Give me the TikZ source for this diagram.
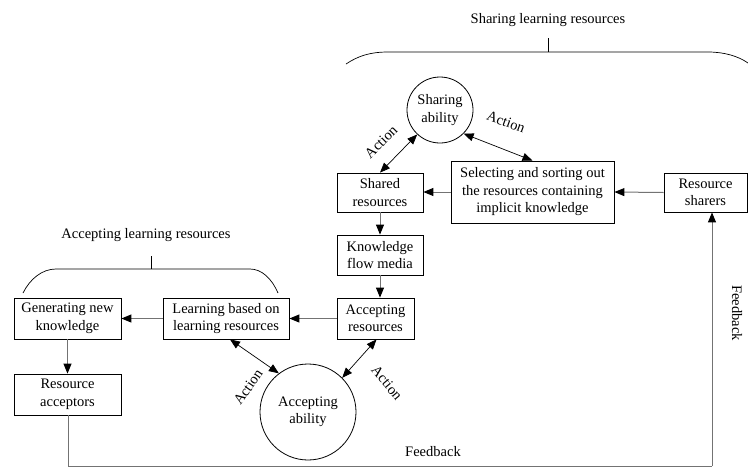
\documentclass[tikz,border=0pt]{standalone}
\usepackage{fontspec}
\setmainfont{Liberation Serif}
\usetikzlibrary{arrows.meta}
\begin{document}
\begin{tikzpicture}[x=1pt,y=-1pt,
  font=\fontsize{14.5}{17.5}\selectfont,
  box/.style={draw=black,line width=0.8pt,align=center,inner sep=0pt,minimum width=#1},
  circ/.style={draw=black,line width=0.8pt,circle,align=center,inner sep=0pt,minimum size=#1},
  conn/.style={draw=black!55,line width=1pt,-{Triangle[length=10pt,width=8pt,color=black]}},
  dbl/.style={draw=black,line width=0.7pt,{Triangle[length=10pt,width=8pt]}-{Triangle[length=10pt,width=8pt]}},
  fb/.style={draw=black!55,line width=1pt},
  brc/.style={draw=black,line width=0.7pt}]
\useasboundingbox (0,0) rectangle (748,467);

% boxes
\node[box=86pt,minimum height=39pt] (shared) at (380,192.5) {Shared\\resources};
\node[box=163pt,minimum height=62pt] (select) at (532.5,192) {Selecting and sorting out\\the resources containing\\implicit knowledge};
\node[box=83pt,minimum height=39pt] (sharers) at (705.5,192.5) {Resource\\sharers};
\node[box=86pt,minimum height=40pt] (kfm) at (380,255) {Knowledge\\flow media};
\node[box=77pt,minimum height=41pt] (accres) at (375.5,318.5) {Accepting\\resources};
\node[box=126pt,minimum height=41pt] (learn) at (226,318.5) {Learning based on\\learning resources};
\node[box=107pt,minimum height=41pt] (gen) at (67.5,318.5) {Generating new\\knowledge};
\node[box=107pt,minimum height=41pt] (acceptors) at (67.5,394.5) {Resource\\acceptors};

% circles
\node[circ=66pt] (sharing) at (440,110) {Sharing\\ability};
\node[circ=96pt] (accepting) at (308,412) {Accepting\\ability};

% straight connectors
\draw[conn] (sharers.west) -- (select.east);
\draw[conn] (select.west) -- (shared.east |- select.west);
\draw[conn] (shared.south) -- (kfm.north);
\draw[conn] (kfm.south) -- (kfm.south |- accres.north);
\draw[conn] (accres.west) -- (learn.east);
\draw[conn] (learn.west) -- (gen.east);
\draw[conn] (gen.south) -- (acceptors.north);

% feedback loop
\coordinate (fbl) at (68,466);
\coordinate (fbr) at (712,466);
\draw[fb] (acceptors.south -| fbl) -- (fbl) -- (fbr);
\draw[conn] (fbr) -- (fbr |- sharers.south);
\node (fbb) at (433,452) {Feedback};
\node[rotate=-90] (fbv) at (737,313) {Feedback};

% action arrows
\draw[dbl] (shared.north) -- (sharing.227);
\draw[dbl] (sharing.315) -- (select.north);
\draw[dbl] ([xshift=4pt]learn.south) -- (accepting.127);
\draw[dbl] ([xshift=1pt]accres.south) -- (accepting.45);
\node[rotate=45] (a1) at (381,142) {Action};
\node[rotate=-20] (a2) at (506,122) {Action};
\node[rotate=55] (a3) at (248,387) {Action};
\node[rotate=-50] (a4) at (387,383) {Action};

% group labels and braces
\node (gs) at (548,20) {Sharing learning resources};
\coordinate (ts1) at (548,38);
\coordinate (ts2) at (548,52);
\draw[brc] (ts1) -- (ts2);
\draw[brc] (346,64) .. controls (358,56) and (370,52) .. (388,52) -- (708,52) .. controls (724,52) and (738,56) .. (748,63);

\node (ga) at (146,235) {Accepting learning resources};
\coordinate (ta1) at (151,256);
\coordinate (ta2) at (151,269);
\draw[brc] (ta1) -- (ta2);
\draw[brc] (23,293) .. controls (30,279) and (42,269) .. (56,269) -- (250,269) .. controls (262,269) and (272,279) .. (278,293);
\end{tikzpicture}
\end{document}
